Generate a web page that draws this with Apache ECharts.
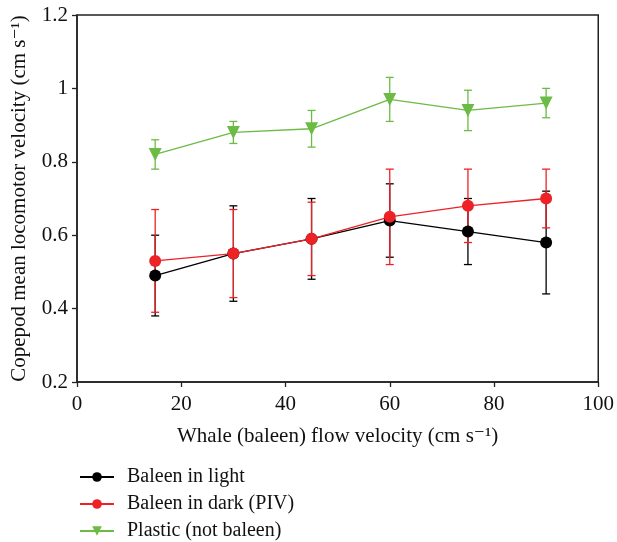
<!DOCTYPE html>
<html>
<head>
<meta charset="utf-8">
<script src="https://cdn.jsdelivr.net/npm/echarts@6/dist/echarts.min.js"></script>
<style>
  html, body { margin: 0; padding: 0; background: #fff; }
  #chart { width: 617px; height: 542px; }
</style>
</head>
<body>
<div id="chart"></div>
<script>
var flow = [15, 30, 45, 60, 75, 90];

var lightMean = [0.49, 0.55, 0.59, 0.64, 0.61, 0.58];
var lightLow  = [0.38, 0.42, 0.48, 0.54, 0.52, 0.44];
var lightHigh = [0.60, 0.68, 0.70, 0.74, 0.70, 0.72];

var darkMean = [0.53, 0.55, 0.59, 0.65, 0.68, 0.70];
var darkLow  = [0.39, 0.43, 0.49, 0.52, 0.58, 0.62];
var darkHigh = [0.67, 0.67, 0.69, 0.78, 0.78, 0.78];

var plasticMean = [0.82, 0.88, 0.89, 0.97, 0.94, 0.96];
var plasticLow  = [0.78, 0.85, 0.84, 0.91, 0.885, 0.92];
var plasticHigh = [0.86, 0.91, 0.94, 1.03, 0.995, 1.00];

var seriesNames = ['Baleen in light', 'Baleen in dark (PIV)', 'Plastic (not baleen)'];
var colors = ['#000000', '#ec2227', '#6cbb45'];

var fontFamily = '"Liberation Serif", "DejaVu Serif", serif';

function pairs(ys) {
    return flow.map(function (x, i) { return [x, ys[i]]; });
}

function errData(low, high) {
    return flow.map(function (x, i) { return [x, low[i], high[i]]; });
}

function errSeries(low, high, color) {
    return {
        type: 'custom',
        data: errData(low, high),
        renderItem: function (params, api) {
            var top = api.coord([api.value(0), api.value(2)]);
            var bot = api.coord([api.value(0), api.value(1)]);
            var w = 4;
            var style = { stroke: color, lineWidth: 1.3 };
            return {
                type: 'group',
                children: [
                    { type: 'line', shape: { x1: top[0], y1: top[1], x2: bot[0], y2: bot[1] }, style: style },
                    { type: 'line', shape: { x1: top[0] - w, y1: top[1], x2: top[0] + w, y2: top[1] }, style: style },
                    { type: 'line', shape: { x1: bot[0] - w, y1: bot[1], x2: bot[0] + w, y2: bot[1] }, style: style }
                ]
            };
        },
        silent: true,
        z: 2
    };
}

function lineSeries(name, ys, color, symbol) {
    return {
        name: name,
        type: 'line',
        data: pairs(ys),
        symbol: symbol,
        symbolSize: symbol === 'circle' ? 12 : 13,
        symbolRotate: symbol === 'triangle' ? 180 : 0,
        lineStyle: { color: color, width: 1.3 },
        itemStyle: { color: color },
        z: 3
    };
}

var chart = echarts.init(document.getElementById('chart'));
var option = {
    animation: false,
    grid: {
        left: 77, right: 16, top: 15, bottom: 160,
        show: true, borderColor: '#222', borderWidth: 1.5, backgroundColor: 'transparent'
    },
    color: colors,
    legend: {
        data: seriesNames,
        orient: 'vertical',
        left: 79,
        top: 467,
        height: 120,
        padding: 0,
        itemWidth: 34,
        itemHeight: 12,
        itemGap: 7,
        textStyle: { fontFamily: fontFamily, fontSize: 20, color: '#111', padding: [0, 0, 0, 8] }
    },
    xAxis: {
        type: 'value',
        min: 0, max: 100, interval: 20,
        name: 'Whale (baleen) flow velocity (cm s\u207B\u00B9)',
        nameLocation: 'middle',
        nameGap: 44,
        nameTextStyle: { fontFamily: fontFamily, fontSize: 21, color: '#111' },
        axisLine: { lineStyle: { color: '#222', width: 1.5 } },
        axisTick: { inside: false, length: 5, lineStyle: { color: '#222', width: 1.3 } },
        axisLabel: { fontFamily: fontFamily, fontSize: 21, color: '#111', margin: 12 },
        splitLine: { show: false }
    },
    yAxis: {
        type: 'value',
        min: 0.2, max: 1.2, interval: 0.2,
        name: 'Copepod mean locomotor velocity (cm s\u207B\u00B9)',
        nameLocation: 'middle',
        nameGap: 47,
        nameTextStyle: { fontFamily: fontFamily, fontSize: 21, color: '#111' },
        axisLine: { lineStyle: { color: '#222', width: 1.5 } },
        axisTick: { inside: false, length: 5, lineStyle: { color: '#222', width: 1.3 } },
        axisLabel: {
            fontFamily: fontFamily, fontSize: 21, color: '#111', margin: 9,
            formatter: function (v) { return String(Math.round(v * 10) / 10); }
        },
        splitLine: { show: false }
    },
    series: [
        errSeries(lightLow, lightHigh, colors[0]),
        lineSeries(seriesNames[0], lightMean, colors[0], 'circle'),
        errSeries(darkLow, darkHigh, colors[1]),
        lineSeries(seriesNames[1], darkMean, colors[1], 'circle'),
        errSeries(plasticLow, plasticHigh, colors[2]),
        lineSeries(seriesNames[2], plasticMean, colors[2], 'triangle')
    ]
};
chart.setOption(option);
</script>
</body>
</html>
